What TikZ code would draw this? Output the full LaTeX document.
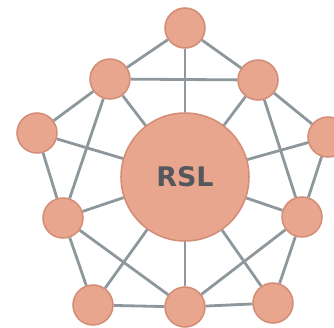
\documentclass[tikz,border=0pt]{standalone}
\usepackage{fontspec}
\newfontfamily\hubfont{DejaVu Sans}
\usetikzlibrary{arrows}
\definecolor{salmon}{HTML}{E9A68E}
\definecolor{rim}{HTML}{D38C76}
\definecolor{wire}{HTML}{8E989C}
\definecolor{ink}{HTML}{54575C}

\begin{document}
\begin{tikzpicture}[x=0.03cm,y=-0.03cm,thick,
        main node/.style={circle,draw=rim,fill=salmon,line width=1.3pt,minimum size=1.2cm,inner sep=0pt},
        hub node/.style={main node,minimum size=3.84cm,font=\hubfont\bfseries\fontsize{23}{23}\selectfont,text=ink},
        every edge/.style={draw=wire,line width=2.4pt}]
        \useasboundingbox (0,0) rectangle (334,327);
        \node[hub node] (rsl) at (185,177) {RSL};
        \node[main node] (1) at (185,28) {};
        \node[main node] (2) at (110,79) {};
        \node[main node] (3) at (258,80) {};
        \node[main node] (4) at (37,133) {};
        \node[main node] (5) at (328,137) {};
        \node[main node] (6) at (63,218) {};
        \node[main node] (7) at (302,217) {};
        \node[main node] (8) at (93,305) {};
        \node[main node] (9) at (185,307) {};
        \node[main node] (10) at (273,303) {};
        \path
        (1) edge (2)
        (1) edge (3)
        (1) edge (rsl)
        (2) edge (3)
        (2) edge (4)
        (2) edge (6)
        (2) edge (rsl)
        (3) edge (5)
        (3) edge (7)
        (3) edge (rsl)
        (4) edge (6)
        (4) edge (rsl)
        (5) edge (7)
        (5) edge (rsl)
        (6) edge (8)
        (6) edge (9)
        (6) edge (rsl)
        (7) edge (9)
        (7) edge (10)
        (7) edge (rsl)
        (8) edge (9)
        (8) edge (rsl)
        (9) edge (10)
        (9) edge (rsl)
        (10) edge (rsl)
        ;
\end{tikzpicture}
\end{document}
